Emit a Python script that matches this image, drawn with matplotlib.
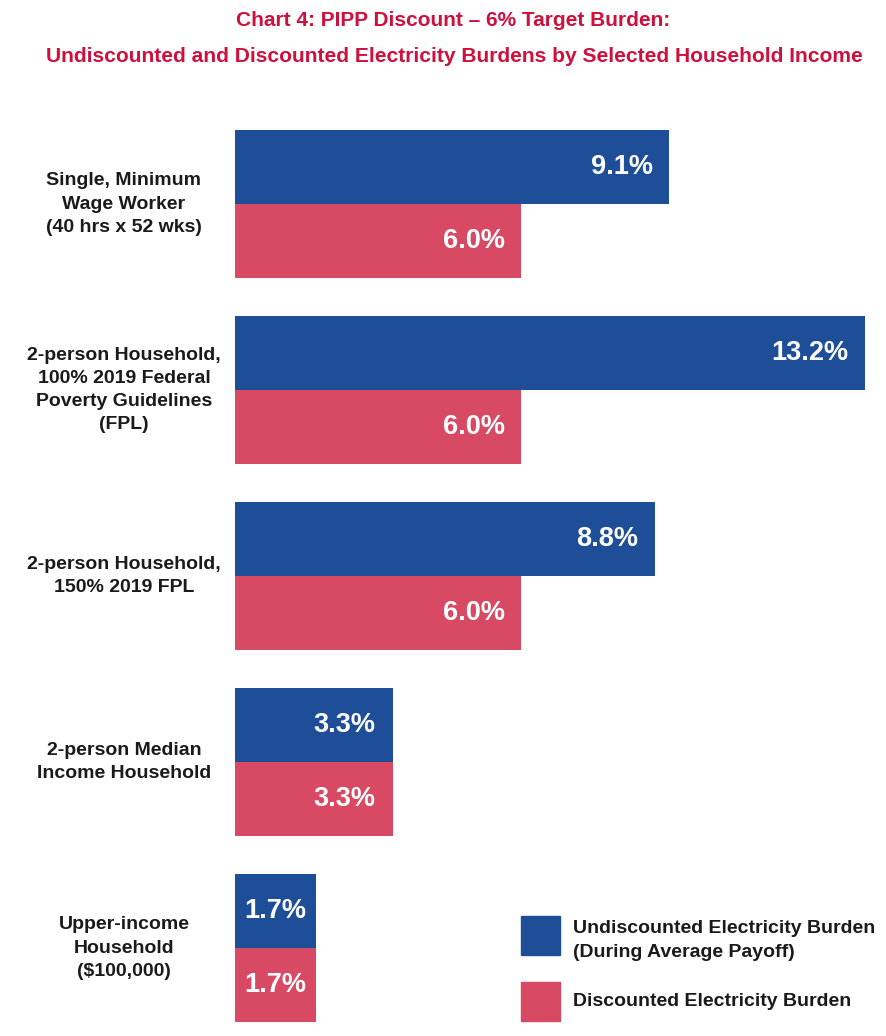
import matplotlib.pyplot as plt
from matplotlib.patches import Rectangle

categories = [
    'Single, Minimum\nWage Worker\n(40 hrs x 52 wks)',
    '2-person Household,\n100% 2019 Federal\nPoverty Guidelines\n(FPL)',
    '2-person Household,\n150% 2019 FPL',
    '2-person Median\nIncome Household',
    'Upper-income\nHousehold\n($100,000)',
]
undiscounted = [9.1, 13.2, 8.8, 3.3, 1.7]
discounted = [6.0, 6.0, 6.0, 3.3, 1.7]
series_names = ['Undiscounted Electricity Burden\n(During Average Payoff)',
                'Discounted Electricity Burden']

BLUE = '#1f4e98'
RED = '#d84a63'
TITLE_RED = '#cf0f3c'

plt.rcParams['font.family'] = ['Liberation Sans', 'DejaVu Sans']

W, H = 886, 1036
fig = plt.figure(figsize=(W / 100, H / 100), dpi=100)
ax = fig.add_axes([235 / W, 14 / H, 630 / W, 892 / H])

bh = 74 / 186
ys = list(range(len(categories)))
b1 = ax.barh([y - bh / 2 for y in ys], undiscounted, height=bh, color=BLUE)
b2 = ax.barh([y + bh / 2 for y in ys], discounted, height=bh, color=RED)

ax.set_xlim(0, 13.2)
ax.set_ylim(len(categories) - 1 + bh, -bh)
ax.axis('off')

for bars, vals in ((b1, undiscounted), (b2, discounted)):
    for rect, v in zip(bars, vals):
        # narrow bars: centre the label, otherwise right-align inside the bar end
        if v < 2:
            ax.annotate(f'{v:.1f}%', (rect.get_width() / 2, rect.get_y() + rect.get_height() / 2),
                        ha='center', va='center', color='white', fontsize=19.5, fontweight='bold')
        else:
            ax.annotate(f'{v:.1f}%', (rect.get_width(), rect.get_y() + rect.get_height() / 2),
                        xytext=(-12, 0), textcoords='offset points', ha='right', va='center',
                        color='white', fontsize=19.5, fontweight='bold')

for y, lab in zip(ys, categories):
    ax.annotate(lab, (0, y), xycoords=('axes fraction', 'data'),
                xytext=(-111 * 0.72, 0), textcoords='offset points',
                ha='center', va='center', fontsize=14, fontweight='bold',
                color='#1a1a1a', linespacing=1.47)

fig.text(453 / W, 1 - 20 / H, 'Chart 4: PIPP Discount \u2013 6% Target Burden:',
         ha='center', va='center', fontsize=15, fontweight='bold', color=TITLE_RED)
fig.text(454 / W, 1 - 56 / H,
         'Undiscounted and Discounted Electricity Burdens by Selected Household Income',
         ha='center', va='center', fontsize=15.1, fontweight='bold', color=TITLE_RED)

# legend
for (y0, col, name) in ((916, BLUE, series_names[0]), (982, RED, series_names[1])):
    fig.patches.append(Rectangle((521 / W, 1 - (y0 + 39) / H), 39 / W, 39 / H,
                                 transform=fig.transFigure, color=col))
    dy = 5 if '\n' in name else 0
    fig.text(573 / W, 1 - (y0 + 19.5 + dy) / H, name, ha='left', va='center',
             fontsize=14, fontweight='bold', color='#1a1a1a', linespacing=1.47)

fig.savefig('out.png', dpi=100)
